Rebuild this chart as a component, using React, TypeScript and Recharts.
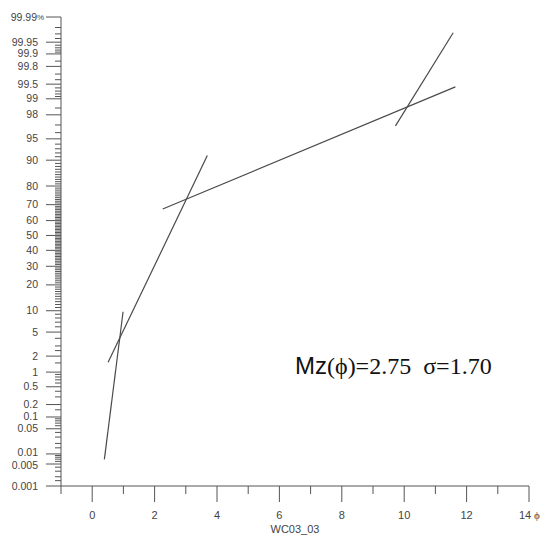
import { Customized, Label, Line, LineChart, XAxis, YAxis } from "recharts";

// cumulative percent (probability scale) vs phi, one array pair per fitted segment
const seg1Phi = [0.39, 0.99];
const seg1Pct = [0.0069, 9.7];
const seg2Phi = [0.51, 3.69];
const seg2Pct = [1.54, 91.3];
const seg3Phi = [2.26, 11.64];
const seg3Pct = [67.4, 99.43];
const seg4Phi = [9.72, 11.57];
const seg4Pct = [96.9, 99.972];

const xTicks = [-1, 0, 1, 2, 3, 4, 5, 6, 7, 8, 9, 10, 11, 12, 13, 14];
const xLabels = ["0", "2", "4", "6", "8", "10", "12", "14"];

const yMajor = [0.001, 0.005, 0.01, 0.05, 0.1, 0.2, 0.5, 1, 2, 5, 10, 20, 30, 40, 50, 60, 70, 80, 90, 95, 98, 99, 99.5, 99.8, 99.9, 99.95, 99.99];
const yMajorLabels = ["0.001", "0.005", "0.01", "0.05", "0.1", "0.2", "0.5", "1", "2", "5", "10", "20", "30", "40", "50", "60", "70", "80", "90", "95", "98", "99", "99.5", "99.8", "99.9", "99.95", "99.99"];
const yMinor = [
    0.0015, 0.002, 0.003, 0.004, 0.006, 0.007, 0.008, 0.009, 0.015, 0.02, 0.03, 0.04,
    0.06, 0.07, 0.08, 0.09, 0.15, 0.3, 0.4, 0.6, 0.7, 0.8, 0.9, 1.5, 2.5, 3, 4,
    6, 7, 8, 9, 11, 12, 13, 14, 15, 16, 17, 18, 19, 21, 22, 23, 24, 25, 26, 27, 28, 29,
    31, 32, 33, 34, 35, 36, 37, 38, 39, 41, 42, 43, 44, 45, 46, 47, 48, 49,
    51, 52, 53, 54, 55, 56, 57, 58, 59, 61, 62, 63, 64, 65, 66, 67, 68, 69,
    71, 72, 73, 74, 75, 76, 77, 78, 79, 81, 82, 83, 84, 85, 86, 87, 88, 89,
    91, 92, 93, 94, 96, 97, 98.5, 99.1, 99.2, 99.3, 99.4, 99.6, 99.7, 99.85,
    99.91, 99.92, 99.93, 99.94, 99.96, 99.97, 99.98,
];

// inverse normal cdf (Acklam), turns percent into probit units
function probit(pct: number) {
    const p = pct / 100;
    const a = [-39.69683028665376, 220.9460984245205, -275.9285104469687, 138.357751867269, -30.66479806614716, 2.506628277459239];
    const b = [-54.47609879822406, 161.5858368580409, -155.6989798598866, 66.80131188771972, -13.28068155288572];
    const c = [-0.007784894002430293, -0.3223964580411365, -2.400758277161838, -2.549732539343734, 4.374664141464968, 2.938163982698783];
    const d = [0.007784695709041462, 0.3224671290700398, 2.445134137142996, 3.754408661907416];
    const lo = 0.02425;
    if (p < lo) {
        const q = Math.sqrt(-2 * Math.log(p));
        return (((((c[0] * q + c[1]) * q + c[2]) * q + c[3]) * q + c[4]) * q + c[5]) / ((((d[0] * q + d[1]) * q + d[2]) * q + d[3]) * q + 1);
    }
    if (p > 1 - lo) {
        const q = Math.sqrt(-2 * Math.log(1 - p));
        return -(((((c[0] * q + c[1]) * q + c[2]) * q + c[3]) * q + c[4]) * q + c[5]) / ((((d[0] * q + d[1]) * q + d[2]) * q + d[3]) * q + 1);
    }
    const q = p - 0.5;
    const r = q * q;
    return (((((a[0] * r + a[1]) * r + a[2]) * r + a[3]) * r + a[4]) * r + a[5]) * q / (((((b[0] * r + b[1]) * r + b[2]) * r + b[3]) * r + b[4]) * r + 1);
}

const toRows = (phi: number[], pct: number[]) => phi.map((x, i) => ({ phi: x, z: probit(pct[i]) }));
const segments = [toRows(seg1Phi, seg1Pct), toRows(seg2Phi, seg2Pct), toRows(seg3Phi, seg3Pct), toRows(seg4Phi, seg4Pct)];

const yTickList = [
    ...yMajor.map((v, i) => ({ z: probit(v), label: yMajorLabels[i], major: true })),
    ...yMinor.map((v) => ({ z: probit(v), label: "", major: false })),
];
const yDomain = [probit(0.001), probit(99.99)];

const AXIS = "#555";
const TEXT = "#444";
const SANS = "Liberation Sans, Arial, sans-serif";

// labels that sit very close together get pulled apart a little
const nudge: Record<string, number> = { "0.01": -1, "0.005": 1.5 };

const YTick = (props: any) => {
    const { x, y, payload } = props;
    const t = yTickList.find((k) => Math.abs(k.z - payload.value) < 1e-9);
    if (!t) return null;
    if (!t.major) {
        return <line x1={x - 6} x2={x} y1={y} y2={y} stroke={AXIS} strokeWidth={1} />;
    }
    const top = t.label === "99.99";
    return (
        <g>
            <line x1={x - 15} x2={x} y1={y} y2={y} stroke={AXIS} strokeWidth={1} />
            <text x={top ? x - 24 : x - 23} y={y + 3.5 + (nudge[t.label] || 0)} textAnchor="end" fontSize={10.5} fill={TEXT} fontFamily={SANS}>
                {t.label}
            </text>
            {top && (
                <text x={x - 24} y={y + 3} fontSize={8} fill={TEXT} fontFamily={SANS}>%</text>
            )}
        </g>
    );
};

const XTick = (props: any) => {
    const { x, y, payload } = props;
    const v = payload.value as number;
    const major = v % 2 === 0;
    const label = major ? xLabels.find((l) => Number(l) === v) : undefined;
    return (
        <g>
            <line x1={x} x2={x} y1={y} y2={y + (major ? 16 : 8)} stroke={AXIS} strokeWidth={1} />
            {label && v !== 14 && (
                <text x={x} y={y + 33} textAnchor="middle" fontSize={11} fill={TEXT} fontFamily={SANS}>{label}</text>
            )}
            {label && v === 14 && (
                <g>
                    <text x={x - 4} y={y + 33} textAnchor="middle" fontSize={11} fill={TEXT} fontFamily={SANS}>{label}</text>
                    <text x={x + 5} y={y + 33} fontSize={11} fill={TEXT} fontFamily="Liberation Serif, serif">ϕ</text>
                </g>
            )}
        </g>
    );
};

const Annotation = () => (
    <text x={295} y={374} fontSize={24} fill="#111">
        <tspan fontFamily={SANS}>Mz</tspan>
        <tspan fontFamily="Liberation Serif, Times New Roman, serif">(ϕ)=2.75</tspan>
        <tspan dx={12} fontFamily="Liberation Serif, Times New Roman, serif">σ=1.70</tspan>
    </text>
);

export default function App() {
    return (
        <div style={{ position: "absolute", left: 0, top: 0, background: "#fff" }}>
            <LineChart width={550} height={542} margin={{ top: 17, right: 21, bottom: 0, left: 0 }}>
                <XAxis
                    dataKey="phi"
                    type="number"
                    domain={[-1, 14]}
                    ticks={xTicks}
                    interval={0}
                    allowDataOverflow
                    height={56}
                    tickSize={0}
                    tickMargin={0}
                    tickLine={false}
                    axisLine={{ stroke: AXIS, strokeWidth: 1 }}
                    tick={<XTick />}
                >
                    <Label value="WC03_03" position="insideBottom" offset={9} fontSize={11} fill={TEXT} fontFamily={SANS} />
                </XAxis>
                <YAxis
                    dataKey="z"
                    type="number"
                    domain={yDomain}
                    ticks={yTickList.map((t) => t.z)}
                    interval={0}
                    allowDataOverflow
                    width={61}
                    tickSize={0}
                    tickMargin={0}
                    tickLine={false}
                    axisLine={{ stroke: AXIS, strokeWidth: 1 }}
                    tick={<YTick />}
                />
                {segments.map((seg, i) => (
                    <Line
                        key={`seg-${i}`}
                        data={seg}
                        dataKey="z"
                        stroke="#4a4a4a"
                        strokeWidth={1.2}
                        dot={false}
                        activeDot={false}
                        isAnimationActive={false}
                    />
                ))}
                <Customized component={<Annotation />} />
            </LineChart>
        </div>
    );
}
